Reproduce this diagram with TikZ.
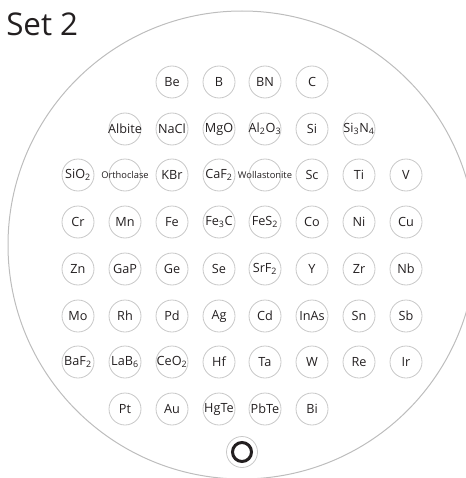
\documentclass[tikz,border=0pt]{standalone}
\usepackage{fontspec}
\setmainfont{Open Sans}
\usepackage{tikz}
\usepackage{xcolor}

\definecolor{ringgray}{HTML}{C8C8C8}
\definecolor{plategray}{HTML}{BDBDBD}
\definecolor{labelink}{HTML}{231F20}

\begin{document}
\begin{tikzpicture}[x=0.75pt, y=-0.75pt]

    %--- Base styles for the sample positions (text may run over the ring):
    \tikzstyle{sample}=[draw=ringgray, line width=0.6pt, circle, minimum size=24pt, inner sep=0pt, text=labelink, font=\fontsize{9.5}{10}\selectfont, execute at begin node={\hbox to 0pt\bgroup\hss}, execute at end node={\hss\egroup}]
    \tikzstyle{long sample}=[sample, font=\fontsize{7}{8}\selectfont]

    \useasboundingbox (0,0) rectangle (465,478);

    %--- Title and holder plate
    \node[anchor=base west, inner sep=0pt, text=labelink, font=\fontsize{23.5}{28}\selectfont] (title) at (6,36) {Set 2};
    \node[draw=plategray, line width=0.75pt, circle, minimum size=351pt, inner sep=0pt] (plate) at (242,245) {};

    %--- Row 1
    \node[sample] (Be) at (172,82) {Be};
    \node[sample] (B)  at (219,82) {B};
    \node[sample] (BN) at (265,82) {BN};
    \node[sample] (C)  at (312,82) {C};

    %--- Row 2
    \node[sample] (Albite) at (125,129) {Albite};
    \node[sample] (NaCl)   at (172,129) {NaCl};
    \node[sample] (MgO)    at (219,129) {MgO};
    \node[sample] (Al2O3)  at (265,129) {Al\textsubscript{2}O\textsubscript{3}};
    \node[sample] (Si)     at (312,129) {Si};
    \node[sample] (Si3N4)  at (359,129) {Si\textsubscript{3}N\textsubscript{4}};

    %--- Row 3
    \node[sample]      (SiO2)         at (78,175)  {SiO\textsubscript{2}};
    \node[long sample] (Orthoclase)   at (125,175) {Orthoclase};
    \node[sample]      (KBr)          at (172,175) {KBr};
    \node[sample]      (CaF2)         at (219,175) {CaF\textsubscript{2}};
    \node[long sample] (Wollastonite) at (265,175) {Wollastonite};
    \node[sample]      (Sc)           at (312,175) {Sc};
    \node[sample]      (Ti)           at (359,175) {Ti};
    \node[sample]      (V)            at (406,175) {V};

    %--- Row 4
    \node[sample] (Cr)   at (78,222)  {Cr};
    \node[sample] (Mn)   at (125,222) {Mn};
    \node[sample] (Fe)   at (172,222) {Fe};
    \node[sample] (Fe3C) at (219,222) {Fe\textsubscript{3}C};
    \node[sample] (FeS2) at (265,222) {FeS\textsubscript{2}};
    \node[sample] (Co)   at (312,222) {Co};
    \node[sample] (Ni)   at (359,222) {Ni};
    \node[sample] (Cu)   at (406,222) {Cu};

    %--- Row 5
    \node[sample] (Zn)   at (78,269)  {Zn};
    \node[sample] (GaP)  at (125,269) {GaP};
    \node[sample] (Ge)   at (172,269) {Ge};
    \node[sample] (Se)   at (219,269) {Se};
    \node[sample] (SrF2) at (265,269) {SrF\textsubscript{2}};
    \node[sample] (Y)    at (312,269) {Y};
    \node[sample] (Zr)   at (359,269) {Zr};
    \node[sample] (Nb)   at (406,269) {Nb};

    %--- Row 6
    \node[sample] (Mo)   at (78,316)  {Mo};
    \node[sample] (Rh)   at (125,316) {Rh};
    \node[sample] (Pd)   at (172,316) {Pd};
    \node[sample] (Ag)   at (219,316) {Ag};
    \node[sample] (Cd)   at (265,316) {Cd};
    \node[sample] (InAs) at (312,316) {InAs};
    \node[sample] (Sn)   at (359,316) {Sn};
    \node[sample] (Sb)   at (406,316) {Sb};

    %--- Row 7
    \node[sample] (BaF2) at (78,362)  {BaF\textsubscript{2}};
    \node[sample] (LaB6) at (125,362) {LaB\textsubscript{6}};
    \node[sample] (CeO2) at (172,362) {CeO\textsubscript{2}};
    \node[sample] (Hf)   at (219,362) {Hf};
    \node[sample] (Ta)   at (265,362) {Ta};
    \node[sample] (W)    at (312,362) {W};
    \node[sample] (Re)   at (359,362) {Re};
    \node[sample] (Ir)   at (406,362) {Ir};

    %--- Row 8
    \node[sample] (Pt)   at (125,409) {Pt};
    \node[sample] (Au)   at (172,409) {Au};
    \node[sample] (HgTe) at (219,409) {HgTe};
    \node[sample] (PbTe) at (265,409) {PbTe};
    \node[sample] (Bi)   at (312,409) {Bi};

    %--- Orientation mark
    \node[draw=ringgray, line width=0.6pt, circle, minimum size=23.25pt, inner sep=0pt] (mark) at (242,452) {};
    \node[draw=labelink, line width=2.25pt, circle, minimum size=14.25pt, inner sep=0pt] (markring) at (mark) {};

\end{tikzpicture}
\end{document}
